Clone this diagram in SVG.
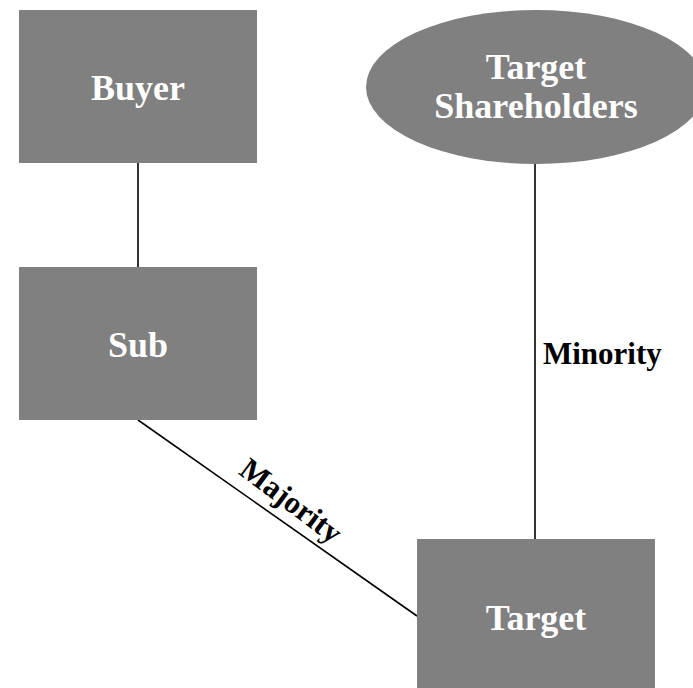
<svg xmlns="http://www.w3.org/2000/svg" width="693" height="688" viewBox="0 0 693 688">
  <style>
    .box { fill: #808080; }
    .name { font-family: "Liberation Serif", "Times New Roman", serif; font-weight: bold; font-size: 36px; fill: #ffffff; text-anchor: middle; }
    .edge { stroke: #000000; stroke-width: 1.6; fill: none; }
    .label { font-family: "Liberation Serif", "Times New Roman", serif; font-weight: bold; font-size: 31px; fill: #000000; }
  </style>
  <rect width="693" height="688" fill="#ffffff"/>

  <!-- ownership links -->
  <g id="connectors">
    <line class="edge" x1="138" y1="163" x2="138" y2="267"/>
    <line class="edge" x1="535" y1="164" x2="535" y2="539"/>
    <line class="edge" x1="138" y1="420" x2="417" y2="616"/>
    <text class="label" x="543" y="364">Minority</text>
    <text class="label" text-anchor="middle" transform="translate(285,509) rotate(37)">Majority</text>
  </g>

  <g id="buyer">
    <rect class="box" x="19" y="10" width="238" height="153"/>
    <text class="name" x="138" y="100">Buyer</text>
  </g>

  <g id="sub">
    <rect class="box" x="19" y="267" width="238" height="153"/>
    <text class="name" x="138" y="357">Sub</text>
  </g>

  <g id="target-shareholders">
    <ellipse class="box" cx="536" cy="87" rx="170" ry="77"/>
    <text class="name" x="536" y="79">Target</text>
    <text class="name" x="536" y="118">Shareholders</text>
  </g>

  <g id="target">
    <rect class="box" x="417" y="539" width="238" height="149"/>
    <text class="name" x="536" y="630">Target</text>
  </g>
</svg>
